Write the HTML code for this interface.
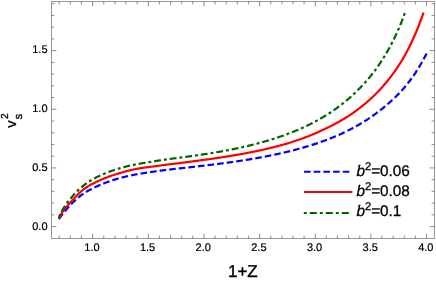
<!DOCTYPE html>
<html><head><meta charset="utf-8"><style>
html,body{margin:0;padding:0;background:#fff;}
svg{display:block;font-family:"Liberation Sans",sans-serif;will-change:transform;}
svg text{text-rendering:geometricPrecision;}
</style></head><body>
<svg width="436" height="282" viewBox="0 0 436 282">
<rect width="436" height="282" fill="#fff"/>
<g fill="none" stroke-linecap="butt" stroke-linejoin="round">
<path d="M58.80,219.10 L59.55,218.06 L60.30,217.05 L61.06,216.06 L61.81,215.08 L62.56,214.12 L63.31,213.17 L64.07,212.24 L64.82,211.33 L65.57,210.44 L66.32,209.56 L67.07,208.69 L67.83,207.84 L68.58,207.00 L69.33,206.18 L70.08,205.37 L70.83,204.58 L71.59,203.80 L72.34,203.04 L73.09,202.29 L73.84,201.56 L74.60,200.84 L75.35,200.14 L76.10,199.45 L76.85,198.79 L77.60,198.13 L78.36,197.50 L79.11,196.88 L79.86,196.28 L80.61,195.69 L81.36,195.13 L82.12,194.58 L82.87,194.05 L83.62,193.54 L84.37,193.05 L85.13,192.57 L85.88,192.10 L86.63,191.65 L87.38,191.21 L88.13,190.78 L88.89,190.36 L89.64,189.96 L90.39,189.56 L91.14,189.17 L91.89,188.79 L92.65,188.41 L93.40,188.04 L94.15,187.68 L94.90,187.32 L95.66,186.96 L96.41,186.61 L97.16,186.26 L97.91,185.92 L98.66,185.59 L99.42,185.26 L100.17,184.93 L100.92,184.61 L101.67,184.29 L102.42,183.98 L103.18,183.67 L103.93,183.37 L104.68,183.07 L105.43,182.78 L106.19,182.49 L106.94,182.21 L107.69,181.93 L108.44,181.66 L109.19,181.39 L109.95,181.12 L110.70,180.86 L111.45,180.61 L112.20,180.36 L112.95,180.11 L113.71,179.87 L114.46,179.63 L115.21,179.40 L115.96,179.17 L116.72,178.95 L117.47,178.73 L118.22,178.51 L118.97,178.30 L119.72,178.10 L120.48,177.90 L121.23,177.70 L121.98,177.51 L122.73,177.32 L123.48,177.13 L124.24,176.95 L124.99,176.77 L125.74,176.59 L126.49,176.41 L127.25,176.24 L128.00,176.07 L128.75,175.91 L129.50,175.74 L130.25,175.58 L131.01,175.43 L131.76,175.27 L132.51,175.12 L133.26,174.97 L134.01,174.82 L134.77,174.68 L135.52,174.53 L136.27,174.39 L137.02,174.25 L137.78,174.12 L138.53,173.98 L139.28,173.85 L140.03,173.72 L140.78,173.59 L141.54,173.46 L142.29,173.34 L143.04,173.21 L143.79,173.09 L144.54,172.97 L145.30,172.85 L146.05,172.74 L146.80,172.62 L147.55,172.50 L148.31,172.39 L149.06,172.28 L149.81,172.17 L150.56,172.05 L151.31,171.94 L152.07,171.84 L152.82,171.73 L153.57,171.62 L154.32,171.52 L155.07,171.41 L155.83,171.31 L156.58,171.20 L157.33,171.10 L158.08,171.00 L158.84,170.90 L159.59,170.80 L160.34,170.70 L161.09,170.60 L161.84,170.50 L162.60,170.40 L163.35,170.31 L164.10,170.21 L164.85,170.12 L165.60,170.02 L166.36,169.93 L167.11,169.84 L167.86,169.74 L168.61,169.65 L169.37,169.56 L170.12,169.47 L170.87,169.38 L171.62,169.29 L172.37,169.20 L173.13,169.11 L173.88,169.02 L174.63,168.93 L175.38,168.84 L176.13,168.76 L176.89,168.67 L177.64,168.58 L178.39,168.50 L179.14,168.41 L179.90,168.32 L180.65,168.24 L181.40,168.15 L182.15,168.07 L182.90,167.98 L183.66,167.90 L184.41,167.81 L185.16,167.73 L185.91,167.64 L186.67,167.56 L187.42,167.48 L188.17,167.39 L188.92,167.31 L189.67,167.22 L190.43,167.14 L191.18,167.06 L191.93,166.97 L192.68,166.89 L193.43,166.80 L194.19,166.72 L194.94,166.64 L195.69,166.55 L196.44,166.47 L197.20,166.38 L197.95,166.30 L198.70,166.21 L199.45,166.13 L200.20,166.04 L200.96,165.96 L201.71,165.87 L202.46,165.79 L203.21,165.70 L203.96,165.62 L204.72,165.53 L205.47,165.44 L206.22,165.35 L206.97,165.27 L207.73,165.18 L208.48,165.09 L209.23,165.00 L209.98,164.91 L210.73,164.82 L211.49,164.73 L212.24,164.64 L212.99,164.55 L213.74,164.46 L214.49,164.36 L215.25,164.27 L216.00,164.18 L216.75,164.08 L217.50,163.99 L218.26,163.89 L219.01,163.80 L219.76,163.70 L220.51,163.61 L221.26,163.51 L222.02,163.41 L222.77,163.31 L223.52,163.21 L224.27,163.11 L225.02,163.01 L225.78,162.91 L226.53,162.81 L227.28,162.71 L228.03,162.60 L228.79,162.50 L229.54,162.40 L230.29,162.29 L231.04,162.19 L231.79,162.08 L232.55,161.97 L233.30,161.87 L234.05,161.76 L234.80,161.65 L235.55,161.54 L236.31,161.43 L237.06,161.32 L237.81,161.20 L238.56,161.09 L239.32,160.98 L240.07,160.86 L240.82,160.75 L241.57,160.63 L242.32,160.52 L243.08,160.40 L243.83,160.28 L244.58,160.16 L245.33,160.04 L246.08,159.92 L246.84,159.80 L247.59,159.68 L248.34,159.55 L249.09,159.43 L249.85,159.30 L250.60,159.18 L251.35,159.05 L252.10,158.92 L252.85,158.79 L253.61,158.66 L254.36,158.53 L255.11,158.40 L255.86,158.27 L256.61,158.14 L257.37,158.00 L258.12,157.87 L258.87,157.73 L259.62,157.59 L260.38,157.46 L261.13,157.32 L261.88,157.18 L262.63,157.04 L263.38,156.89 L264.14,156.75 L264.89,156.61 L265.64,156.46 L266.39,156.31 L267.14,156.17 L267.90,156.02 L268.65,155.87 L269.40,155.72 L270.15,155.57 L270.91,155.41 L271.66,155.26 L272.41,155.11 L273.16,154.95 L273.91,154.79 L274.67,154.63 L275.42,154.47 L276.17,154.31 L276.92,154.15 L277.67,153.99 L278.43,153.82 L279.18,153.66 L279.93,153.49 L280.68,153.32 L281.44,153.15 L282.19,152.98 L282.94,152.81 L283.69,152.63 L284.44,152.46 L285.20,152.28 L285.95,152.10 L286.70,151.92 L287.45,151.74 L288.20,151.56 L288.96,151.38 L289.71,151.19 L290.46,151.00 L291.21,150.81 L291.97,150.62 L292.72,150.43 L293.47,150.24 L294.22,150.04 L294.97,149.85 L295.73,149.65 L296.48,149.45 L297.23,149.25 L297.98,149.04 L298.73,148.84 L299.49,148.63 L300.24,148.42 L300.99,148.21 L301.74,148.00 L302.50,147.79 L303.25,147.57 L304.00,147.35 L304.75,147.13 L305.50,146.91 L306.26,146.69 L307.01,146.46 L307.76,146.24 L308.51,146.01 L309.27,145.78 L310.02,145.55 L310.77,145.31 L311.52,145.07 L312.27,144.83 L313.03,144.59 L313.78,144.35 L314.53,144.11 L315.28,143.86 L316.03,143.61 L316.79,143.36 L317.54,143.10 L318.29,142.85 L319.04,142.59 L319.80,142.33 L320.55,142.07 L321.30,141.80 L322.05,141.54 L322.80,141.27 L323.56,141.00 L324.31,140.72 L325.06,140.45 L325.81,140.17 L326.56,139.88 L327.32,139.60 L328.07,139.31 L328.82,139.02 L329.57,138.73 L330.33,138.44 L331.08,138.14 L331.83,137.84 L332.58,137.53 L333.33,137.23 L334.09,136.92 L334.84,136.60 L335.59,136.29 L336.34,135.97 L337.09,135.65 L337.85,135.32 L338.60,134.99 L339.35,134.66 L340.10,134.32 L340.86,133.99 L341.61,133.64 L342.36,133.30 L343.11,132.95 L343.86,132.59 L344.62,132.24 L345.37,131.88 L346.12,131.51 L346.87,131.14 L347.62,130.77 L348.38,130.39 L349.13,130.01 L349.88,129.63 L350.63,129.24 L351.39,128.85 L352.14,128.45 L352.89,128.05 L353.64,127.65 L354.39,127.24 L355.15,126.83 L355.90,126.41 L356.65,125.99 L357.40,125.56 L358.15,125.13 L358.91,124.69 L359.66,124.25 L360.41,123.81 L361.16,123.36 L361.92,122.90 L362.67,122.44 L363.42,121.98 L364.17,121.51 L364.92,121.04 L365.68,120.56 L366.43,120.08 L367.18,119.59 L367.93,119.09 L368.68,118.59 L369.44,118.09 L370.19,117.58 L370.94,117.06 L371.69,116.54 L372.45,116.02 L373.20,115.49 L373.95,114.95 L374.70,114.41 L375.45,113.86 L376.21,113.30 L376.96,112.74 L377.71,112.18 L378.46,111.61 L379.21,111.03 L379.97,110.45 L380.72,109.86 L381.47,109.26 L382.22,108.66 L382.98,108.05 L383.73,107.44 L384.48,106.82 L385.23,106.19 L385.98,105.56 L386.74,104.92 L387.49,104.27 L388.24,103.62 L388.99,102.96 L389.74,102.30 L390.50,101.63 L391.25,100.95 L392.00,100.26 L392.75,99.57 L393.51,98.86 L394.26,98.15 L395.01,97.43 L395.76,96.70 L396.51,95.96 L397.27,95.21 L398.02,94.45 L398.77,93.68 L399.52,92.90 L400.27,92.10 L401.03,91.30 L401.78,90.48 L402.53,89.64 L403.28,88.79 L404.04,87.93 L404.79,87.06 L405.54,86.16 L406.29,85.26 L407.04,84.34 L407.80,83.40 L408.55,82.44 L409.30,81.47 L410.05,80.48 L410.80,79.47 L411.56,78.45 L412.31,77.40 L413.06,76.34 L413.81,75.26 L414.57,74.15 L415.32,73.03 L416.07,71.88 L416.82,70.72 L417.57,69.53 L418.33,68.32 L419.08,67.09 L419.83,65.83 L420.58,64.56 L421.33,63.25 L422.09,61.93 L422.84,60.58 L423.59,59.20 L424.34,57.80 L425.10,56.37 L425.85,54.92 L426.60,53.44" stroke="#0000ff" stroke-width="2.2" stroke-dasharray="6.57 3.08"/>
<path d="M58.70,218.72 L59.45,217.15 L60.20,215.70 L60.96,214.36 L61.71,213.12 L62.46,211.96 L63.21,210.88 L63.97,209.86 L64.72,208.90 L65.47,207.98 L66.22,207.10 L66.97,206.24 L67.73,205.39 L68.48,204.54 L69.23,203.71 L69.98,202.88 L70.74,202.06 L71.49,201.24 L72.24,200.43 L72.99,199.63 L73.75,198.82 L74.50,198.03 L75.25,197.23 L76.00,196.43 L76.75,195.64 L77.51,194.87 L78.26,194.11 L79.01,193.37 L79.76,192.66 L80.52,191.96 L81.27,191.29 L82.02,190.64 L82.77,190.02 L83.52,189.42 L84.28,188.84 L85.03,188.29 L85.78,187.76 L86.53,187.25 L87.29,186.77 L88.04,186.30 L88.79,185.85 L89.54,185.41 L90.30,184.99 L91.05,184.59 L91.80,184.20 L92.55,183.82 L93.30,183.43 L94.06,183.05 L94.81,182.67 L95.56,182.29 L96.31,181.91 L97.07,181.54 L97.82,181.18 L98.57,180.83 L99.32,180.49 L100.07,180.17 L100.83,179.85 L101.58,179.54 L102.33,179.23 L103.08,178.92 L103.84,178.61 L104.59,178.30 L105.34,178.00 L106.09,177.70 L106.85,177.41 L107.60,177.12 L108.35,176.83 L109.10,176.55 L109.85,176.27 L110.61,175.99 L111.36,175.73 L112.11,175.47 L112.86,175.22 L113.62,174.97 L114.37,174.73 L115.12,174.50 L115.87,174.26 L116.62,174.03 L117.38,173.81 L118.13,173.58 L118.88,173.36 L119.63,173.13 L120.39,172.91 L121.14,172.69 L121.89,172.46 L122.64,172.24 L123.40,172.03 L124.15,171.81 L124.90,171.60 L125.65,171.40 L126.40,171.19 L127.16,171.00 L127.91,170.80 L128.66,170.61 L129.41,170.43 L130.17,170.24 L130.92,170.07 L131.67,169.89 L132.42,169.72 L133.17,169.56 L133.93,169.40 L134.68,169.24 L135.43,169.09 L136.18,168.94 L136.94,168.80 L137.69,168.66 L138.44,168.53 L139.19,168.40 L139.94,168.28 L140.70,168.16 L141.45,168.04 L142.20,167.93 L142.95,167.82 L143.71,167.71 L144.46,167.61 L145.21,167.51 L145.96,167.41 L146.72,167.31 L147.47,167.21 L148.22,167.12 L148.97,167.03 L149.72,166.93 L150.48,166.84 L151.23,166.75 L151.98,166.66 L152.73,166.57 L153.49,166.47 L154.24,166.37 L154.99,166.27 L155.74,166.17 L156.49,166.07 L157.25,165.96 L158.00,165.86 L158.75,165.75 L159.50,165.64 L160.26,165.53 L161.01,165.42 L161.76,165.32 L162.51,165.21 L163.27,165.10 L164.02,165.00 L164.77,164.90 L165.52,164.79 L166.27,164.70 L167.03,164.60 L167.78,164.51 L168.53,164.42 L169.28,164.33 L170.04,164.24 L170.79,164.15 L171.54,164.06 L172.29,163.97 L173.04,163.88 L173.80,163.79 L174.55,163.70 L175.30,163.60 L176.05,163.51 L176.81,163.42 L177.56,163.33 L178.31,163.23 L179.06,163.14 L179.82,163.05 L180.57,162.95 L181.32,162.86 L182.07,162.77 L182.82,162.67 L183.58,162.58 L184.33,162.48 L185.08,162.39 L185.83,162.29 L186.59,162.19 L187.34,162.10 L188.09,162.00 L188.84,161.90 L189.59,161.80 L190.35,161.71 L191.10,161.61 L191.85,161.51 L192.60,161.41 L193.36,161.31 L194.11,161.21 L194.86,161.11 L195.61,161.01 L196.37,160.91 L197.12,160.81 L197.87,160.70 L198.62,160.60 L199.37,160.50 L200.13,160.40 L200.88,160.29 L201.63,160.19 L202.38,160.08 L203.14,159.98 L203.89,159.87 L204.64,159.77 L205.39,159.66 L206.14,159.56 L206.90,159.45 L207.65,159.34 L208.40,159.24 L209.15,159.13 L209.91,159.02 L210.66,158.91 L211.41,158.81 L212.16,158.70 L212.91,158.59 L213.67,158.48 L214.42,158.37 L215.17,158.26 L215.92,158.15 L216.68,158.04 L217.43,157.93 L218.18,157.82 L218.93,157.71 L219.69,157.59 L220.44,157.48 L221.19,157.37 L221.94,157.25 L222.69,157.14 L223.45,157.02 L224.20,156.91 L224.95,156.79 L225.70,156.67 L226.46,156.55 L227.21,156.43 L227.96,156.31 L228.71,156.19 L229.46,156.07 L230.22,155.95 L230.97,155.83 L231.72,155.70 L232.47,155.58 L233.23,155.45 L233.98,155.33 L234.73,155.20 L235.48,155.07 L236.24,154.94 L236.99,154.81 L237.74,154.68 L238.49,154.55 L239.24,154.42 L240.00,154.28 L240.75,154.15 L241.50,154.01 L242.25,153.88 L243.01,153.74 L243.76,153.60 L244.51,153.46 L245.26,153.32 L246.01,153.18 L246.77,153.04 L247.52,152.89 L248.27,152.75 L249.02,152.60 L249.78,152.46 L250.53,152.31 L251.28,152.16 L252.03,152.01 L252.79,151.86 L253.54,151.71 L254.29,151.56 L255.04,151.40 L255.79,151.25 L256.55,151.09 L257.30,150.93 L258.05,150.77 L258.80,150.61 L259.56,150.45 L260.31,150.29 L261.06,150.13 L261.81,149.96 L262.56,149.79 L263.32,149.63 L264.07,149.46 L264.82,149.29 L265.57,149.11 L266.33,148.94 L267.08,148.77 L267.83,148.59 L268.58,148.41 L269.34,148.23 L270.09,148.05 L270.84,147.87 L271.59,147.69 L272.34,147.50 L273.10,147.32 L273.85,147.13 L274.60,146.94 L275.35,146.74 L276.11,146.55 L276.86,146.36 L277.61,146.16 L278.36,145.96 L279.11,145.76 L279.87,145.55 L280.62,145.35 L281.37,145.14 L282.12,144.93 L282.88,144.72 L283.63,144.51 L284.38,144.30 L285.13,144.08 L285.88,143.86 L286.64,143.64 L287.39,143.42 L288.14,143.19 L288.89,142.96 L289.65,142.73 L290.40,142.50 L291.15,142.27 L291.90,142.03 L292.66,141.79 L293.41,141.55 L294.16,141.31 L294.91,141.06 L295.66,140.81 L296.42,140.56 L297.17,140.31 L297.92,140.05 L298.67,139.79 L299.43,139.53 L300.18,139.27 L300.93,139.00 L301.68,138.73 L302.43,138.46 L303.19,138.19 L303.94,137.91 L304.69,137.63 L305.44,137.34 L306.20,137.06 L306.95,136.77 L307.70,136.48 L308.45,136.18 L309.21,135.88 L309.96,135.58 L310.71,135.27 L311.46,134.97 L312.21,134.65 L312.97,134.34 L313.72,134.02 L314.47,133.70 L315.22,133.38 L315.98,133.05 L316.73,132.72 L317.48,132.38 L318.23,132.04 L318.98,131.70 L319.74,131.36 L320.49,131.01 L321.24,130.66 L321.99,130.31 L322.75,129.96 L323.50,129.61 L324.25,129.26 L325.00,128.91 L325.76,128.55 L326.51,128.20 L327.26,127.84 L328.01,127.48 L328.76,127.11 L329.52,126.75 L330.27,126.38 L331.02,126.00 L331.77,125.62 L332.53,125.24 L333.28,124.85 L334.03,124.45 L334.78,124.06 L335.53,123.65 L336.29,123.25 L337.04,122.84 L337.79,122.42 L338.54,122.01 L339.30,121.59 L340.05,121.16 L340.80,120.73 L341.55,120.30 L342.31,119.86 L343.06,119.41 L343.81,118.95 L344.56,118.49 L345.31,118.02 L346.07,117.55 L346.82,117.07 L347.57,116.59 L348.32,116.10 L349.08,115.60 L349.83,115.10 L350.58,114.60 L351.33,114.09 L352.08,113.58 L352.84,113.05 L353.59,112.53 L354.34,111.99 L355.09,111.45 L355.85,110.91 L356.60,110.36 L357.35,109.80 L358.10,109.23 L358.85,108.66 L359.61,108.08 L360.36,107.50 L361.11,106.91 L361.86,106.32 L362.62,105.72 L363.37,105.11 L364.12,104.50 L364.87,103.88 L365.63,103.26 L366.38,102.62 L367.13,101.98 L367.88,101.33 L368.63,100.66 L369.39,99.99 L370.14,99.31 L370.89,98.62 L371.64,97.93 L372.40,97.22 L373.15,96.50 L373.90,95.78 L374.65,95.04 L375.40,94.30 L376.16,93.55 L376.91,92.78 L377.66,92.01 L378.41,91.23 L379.17,90.44 L379.92,89.64 L380.67,88.82 L381.42,88.00 L382.18,87.16 L382.93,86.31 L383.68,85.45 L384.43,84.58 L385.18,83.70 L385.94,82.80 L386.69,81.89 L387.44,80.97 L388.19,80.04 L388.95,79.10 L389.70,78.14 L390.45,77.17 L391.20,76.19 L391.95,75.19 L392.71,74.18 L393.46,73.15 L394.21,72.10 L394.96,71.04 L395.72,69.96 L396.47,68.87 L397.22,67.75 L397.97,66.63 L398.73,65.48 L399.48,64.31 L400.23,63.13 L400.98,61.93 L401.73,60.70 L402.49,59.45 L403.24,58.18 L403.99,56.88 L404.74,55.56 L405.50,54.21 L406.25,52.83 L407.00,51.43 L407.75,50.00 L408.50,48.54 L409.26,47.05 L410.01,45.54 L410.76,43.99 L411.51,42.41 L412.27,40.81 L413.02,39.16 L413.77,37.49 L414.52,35.79 L415.28,34.05 L416.03,32.27 L416.78,30.46 L417.53,28.62 L418.28,26.74 L419.04,24.82 L419.79,22.86 L420.54,20.87 L421.29,18.84 L422.05,16.77 L422.80,14.66 L423.55,12.51" stroke="#ff0000" stroke-width="2.2"/>
<path d="M58.70,217.78 L59.45,216.04 L60.20,214.40 L60.96,212.87 L61.71,211.42 L62.46,210.06 L63.21,208.77 L63.96,207.55 L64.71,206.38 L65.47,205.27 L66.22,204.20 L66.97,203.17 L67.72,202.17 L68.47,201.18 L69.23,200.22 L69.98,199.27 L70.73,198.34 L71.48,197.43 L72.23,196.54 L72.99,195.66 L73.74,194.81 L74.49,193.98 L75.24,193.16 L75.99,192.37 L76.74,191.60 L77.50,190.85 L78.25,190.12 L79.00,189.41 L79.75,188.73 L80.50,188.07 L81.26,187.42 L82.01,186.79 L82.76,186.17 L83.51,185.57 L84.26,184.98 L85.01,184.41 L85.77,183.85 L86.52,183.31 L87.27,182.78 L88.02,182.26 L88.77,181.76 L89.53,181.26 L90.28,180.79 L91.03,180.32 L91.78,179.87 L92.53,179.42 L93.28,178.99 L94.04,178.57 L94.79,178.16 L95.54,177.77 L96.29,177.38 L97.04,177.00 L97.80,176.63 L98.55,176.27 L99.30,175.92 L100.05,175.57 L100.80,175.23 L101.56,174.90 L102.31,174.58 L103.06,174.26 L103.81,173.94 L104.56,173.63 L105.31,173.32 L106.07,173.02 L106.82,172.72 L107.57,172.42 L108.32,172.12 L109.07,171.83 L109.83,171.55 L110.58,171.27 L111.33,171.00 L112.08,170.74 L112.83,170.48 L113.58,170.22 L114.34,169.98 L115.09,169.73 L115.84,169.49 L116.59,169.26 L117.34,169.03 L118.10,168.80 L118.85,168.57 L119.60,168.35 L120.35,168.12 L121.10,167.90 L121.85,167.69 L122.61,167.47 L123.36,167.27 L124.11,167.06 L124.86,166.86 L125.61,166.67 L126.37,166.48 L127.12,166.30 L127.87,166.11 L128.62,165.94 L129.37,165.76 L130.13,165.59 L130.88,165.43 L131.63,165.26 L132.38,165.10 L133.13,164.95 L133.88,164.80 L134.64,164.65 L135.39,164.50 L136.14,164.36 L136.89,164.21 L137.64,164.08 L138.40,163.94 L139.15,163.81 L139.90,163.67 L140.65,163.54 L141.40,163.42 L142.15,163.29 L142.91,163.17 L143.66,163.04 L144.41,162.92 L145.16,162.80 L145.91,162.68 L146.67,162.56 L147.42,162.44 L148.17,162.32 L148.92,162.20 L149.67,162.08 L150.42,161.95 L151.18,161.83 L151.93,161.70 L152.68,161.58 L153.43,161.45 L154.18,161.33 L154.94,161.20 L155.69,161.08 L156.44,160.95 L157.19,160.83 L157.94,160.71 L158.70,160.58 L159.45,160.46 L160.20,160.34 L160.95,160.22 L161.70,160.10 L162.45,159.99 L163.21,159.87 L163.96,159.76 L164.71,159.65 L165.46,159.54 L166.21,159.43 L166.97,159.32 L167.72,159.22 L168.47,159.12 L169.22,159.02 L169.97,158.92 L170.72,158.82 L171.48,158.72 L172.23,158.62 L172.98,158.52 L173.73,158.42 L174.48,158.33 L175.24,158.23 L175.99,158.13 L176.74,158.03 L177.49,157.93 L178.24,157.84 L179.00,157.74 L179.75,157.64 L180.50,157.54 L181.25,157.44 L182.00,157.35 L182.75,157.25 L183.51,157.15 L184.26,157.05 L185.01,156.95 L185.76,156.85 L186.51,156.75 L187.27,156.65 L188.02,156.55 L188.77,156.45 L189.52,156.35 L190.27,156.25 L191.02,156.15 L191.78,156.05 L192.53,155.95 L193.28,155.84 L194.03,155.74 L194.78,155.63 L195.54,155.53 L196.29,155.42 L197.04,155.32 L197.79,155.21 L198.54,155.10 L199.29,154.99 L200.05,154.88 L200.80,154.77 L201.55,154.66 L202.30,154.55 L203.05,154.44 L203.81,154.32 L204.56,154.21 L205.31,154.09 L206.06,153.98 L206.81,153.86 L207.57,153.74 L208.32,153.62 L209.07,153.50 L209.82,153.38 L210.57,153.26 L211.32,153.14 L212.08,153.02 L212.83,152.89 L213.58,152.77 L214.33,152.64 L215.08,152.52 L215.84,152.39 L216.59,152.26 L217.34,152.13 L218.09,152.00 L218.84,151.87 L219.59,151.74 L220.35,151.60 L221.10,151.47 L221.85,151.33 L222.60,151.20 L223.35,151.06 L224.11,150.92 L224.86,150.78 L225.61,150.64 L226.36,150.50 L227.11,150.35 L227.86,150.21 L228.62,150.06 L229.37,149.92 L230.12,149.77 L230.87,149.62 L231.62,149.47 L232.38,149.32 L233.13,149.17 L233.88,149.01 L234.63,148.86 L235.38,148.70 L236.14,148.54 L236.89,148.38 L237.64,148.22 L238.39,148.06 L239.14,147.90 L239.89,147.74 L240.65,147.57 L241.40,147.40 L242.15,147.23 L242.90,147.06 L243.65,146.89 L244.41,146.72 L245.16,146.55 L245.91,146.37 L246.66,146.19 L247.41,146.02 L248.16,145.84 L248.92,145.66 L249.67,145.47 L250.42,145.29 L251.17,145.10 L251.92,144.92 L252.68,144.73 L253.43,144.54 L254.18,144.34 L254.93,144.15 L255.68,143.96 L256.43,143.76 L257.19,143.56 L257.94,143.36 L258.69,143.16 L259.44,142.96 L260.19,142.75 L260.95,142.55 L261.70,142.34 L262.45,142.13 L263.20,141.92 L263.95,141.70 L264.71,141.49 L265.46,141.27 L266.21,141.05 L266.96,140.83 L267.71,140.61 L268.46,140.38 L269.22,140.16 L269.97,139.93 L270.72,139.70 L271.47,139.47 L272.22,139.24 L272.98,139.00 L273.73,138.77 L274.48,138.53 L275.23,138.29 L275.98,138.04 L276.73,137.80 L277.49,137.55 L278.24,137.30 L278.99,137.05 L279.74,136.79 L280.49,136.54 L281.25,136.28 L282.00,136.02 L282.75,135.75 L283.50,135.49 L284.25,135.22 L285.00,134.95 L285.76,134.67 L286.51,134.40 L287.26,134.12 L288.01,133.84 L288.76,133.55 L289.52,133.27 L290.27,132.98 L291.02,132.69 L291.77,132.39 L292.52,132.09 L293.28,131.79 L294.03,131.49 L294.78,131.18 L295.53,130.87 L296.28,130.56 L297.03,130.24 L297.79,129.92 L298.54,129.60 L299.29,129.27 L300.04,128.95 L300.79,128.61 L301.55,128.28 L302.30,127.94 L303.05,127.60 L303.80,127.25 L304.55,126.90 L305.30,126.55 L306.06,126.20 L306.81,125.84 L307.56,125.47 L308.31,125.11 L309.06,124.74 L309.82,124.36 L310.57,123.99 L311.32,123.60 L312.07,123.22 L312.82,122.83 L313.58,122.44 L314.33,122.04 L315.08,121.64 L315.83,121.23 L316.58,120.83 L317.33,120.41 L318.09,120.00 L318.84,119.58 L319.59,119.15 L320.34,118.72 L321.09,118.29 L321.85,117.85 L322.60,117.41 L323.35,116.96 L324.10,116.51 L324.85,116.05 L325.60,115.59 L326.36,115.13 L327.11,114.66 L327.86,114.18 L328.61,113.70 L329.36,113.21 L330.12,112.72 L330.87,112.23 L331.62,111.72 L332.37,111.22 L333.12,110.70 L333.87,110.18 L334.63,109.66 L335.38,109.13 L336.13,108.59 L336.88,108.05 L337.63,107.50 L338.39,106.95 L339.14,106.39 L339.89,105.82 L340.64,105.24 L341.39,104.66 L342.15,104.08 L342.90,103.48 L343.65,102.88 L344.40,102.27 L345.15,101.66 L345.90,101.04 L346.66,100.41 L347.41,99.77 L348.16,99.13 L348.91,98.48 L349.66,97.82 L350.42,97.16 L351.17,96.48 L351.92,95.80 L352.67,95.11 L353.42,94.42 L354.17,93.71 L354.93,93.00 L355.68,92.28 L356.43,91.55 L357.18,90.81 L357.93,90.07 L358.69,89.31 L359.44,88.55 L360.19,87.78 L360.94,87.00 L361.69,86.21 L362.44,85.41 L363.20,84.60 L363.95,83.78 L364.70,82.95 L365.45,82.11 L366.20,81.26 L366.96,80.40 L367.71,79.53 L368.46,78.64 L369.21,77.74 L369.96,76.83 L370.72,75.91 L371.47,74.97 L372.22,74.02 L372.97,73.05 L373.72,72.07 L374.47,71.08 L375.23,70.07 L375.98,69.05 L376.73,68.01 L377.48,66.95 L378.23,65.88 L378.99,64.79 L379.74,63.69 L380.49,62.56 L381.24,61.42 L381.99,60.27 L382.74,59.09 L383.50,57.90 L384.25,56.68 L385.00,55.45 L385.75,54.20 L386.50,52.93 L387.26,51.63 L388.01,50.32 L388.76,48.98 L389.51,47.62 L390.26,46.23 L391.01,44.82 L391.77,43.38 L392.52,41.91 L393.27,40.41 L394.02,38.89 L394.77,37.33 L395.53,35.75 L396.28,34.13 L397.03,32.48 L397.78,30.80 L398.53,29.08 L399.29,27.32 L400.04,25.53 L400.79,23.71 L401.54,21.84 L402.29,19.94 L403.04,17.99 L403.80,16.01 L404.55,13.98 L405.30,11.91" stroke="#006400" stroke-width="2.2" stroke-dasharray="2.94 2.94 6.87 2.94" stroke-dashoffset="-0.9"/>
<path d="M58.70,217.78 L59.06,216.95" stroke="#006400" stroke-width="2.2"/>
</g>
<g fill="none" stroke="#979797" stroke-width="1">
<rect x="51.5" y="1.5" width="383.0" height="237.0"/>
<path d="M59.26,238.5 v-2.9 M59.26,1.5 v2.9 M70.39,238.5 v-2.9 M70.39,1.5 v2.9 M81.52,238.5 v-2.9 M81.52,1.5 v2.9 M92.65,238.5 v-4.9 M92.65,1.5 v4.9 M103.78,238.5 v-2.9 M103.78,1.5 v2.9 M114.91,238.5 v-2.9 M114.91,1.5 v2.9 M126.04,238.5 v-2.9 M126.04,1.5 v2.9 M137.17,238.5 v-2.9 M137.17,1.5 v2.9 M148.30,238.5 v-4.9 M148.30,1.5 v4.9 M159.43,238.5 v-2.9 M159.43,1.5 v2.9 M170.56,238.5 v-2.9 M170.56,1.5 v2.9 M181.69,238.5 v-2.9 M181.69,1.5 v2.9 M192.82,238.5 v-2.9 M192.82,1.5 v2.9 M203.95,238.5 v-4.9 M203.95,1.5 v4.9 M215.08,238.5 v-2.9 M215.08,1.5 v2.9 M226.21,238.5 v-2.9 M226.21,1.5 v2.9 M237.34,238.5 v-2.9 M237.34,1.5 v2.9 M248.47,238.5 v-2.9 M248.47,1.5 v2.9 M259.60,238.5 v-4.9 M259.60,1.5 v4.9 M270.73,238.5 v-2.9 M270.73,1.5 v2.9 M281.86,238.5 v-2.9 M281.86,1.5 v2.9 M292.99,238.5 v-2.9 M292.99,1.5 v2.9 M304.12,238.5 v-2.9 M304.12,1.5 v2.9 M315.25,238.5 v-4.9 M315.25,1.5 v4.9 M326.38,238.5 v-2.9 M326.38,1.5 v2.9 M337.51,238.5 v-2.9 M337.51,1.5 v2.9 M348.64,238.5 v-2.9 M348.64,1.5 v2.9 M359.77,238.5 v-2.9 M359.77,1.5 v2.9 M370.90,238.5 v-4.9 M370.90,1.5 v4.9 M382.03,238.5 v-2.9 M382.03,1.5 v2.9 M393.16,238.5 v-2.9 M393.16,1.5 v2.9 M404.29,238.5 v-2.9 M404.29,1.5 v2.9 M415.42,238.5 v-2.9 M415.42,1.5 v2.9 M426.55,238.5 v-4.9 M426.55,1.5 v4.9 M51.5,226.58 h4.9 M434.5,226.58 h-4.9 M51.5,214.85 h2.9 M434.5,214.85 h-2.9 M51.5,203.12 h2.9 M434.5,203.12 h-2.9 M51.5,191.39 h2.9 M434.5,191.39 h-2.9 M51.5,179.66 h2.9 M434.5,179.66 h-2.9 M51.5,167.93 h4.9 M434.5,167.93 h-4.9 M51.5,156.20 h2.9 M434.5,156.20 h-2.9 M51.5,144.47 h2.9 M434.5,144.47 h-2.9 M51.5,132.74 h2.9 M434.5,132.74 h-2.9 M51.5,121.01 h2.9 M434.5,121.01 h-2.9 M51.5,109.28 h4.9 M434.5,109.28 h-4.9 M51.5,97.55 h2.9 M434.5,97.55 h-2.9 M51.5,85.82 h2.9 M434.5,85.82 h-2.9 M51.5,74.09 h2.9 M434.5,74.09 h-2.9 M51.5,62.36 h2.9 M434.5,62.36 h-2.9 M51.5,50.63 h4.9 M434.5,50.63 h-4.9 M51.5,38.90 h2.9 M434.5,38.90 h-2.9 M51.5,27.17 h2.9 M434.5,27.17 h-2.9 M51.5,15.44 h2.9 M434.5,15.44 h-2.9 M51.5,3.71 h2.9 M434.5,3.71 h-2.9" stroke="#6c6c6c" stroke-width="0.78"/>
</g>
<g font-size="11" fill="#000" stroke="#000" stroke-width="0.22"><text x="91.95" y="251" text-anchor="middle">1.0</text><text x="147.60" y="251" text-anchor="middle">1.5</text><text x="203.25" y="251" text-anchor="middle">2.0</text><text x="258.90" y="251" text-anchor="middle">2.5</text><text x="314.55" y="251" text-anchor="middle">3.0</text><text x="370.20" y="251" text-anchor="middle">3.5</text><text x="425.85" y="251" text-anchor="middle">4.0</text><text x="47.5" y="229.8" text-anchor="end">0.0</text><text x="47.5" y="171" text-anchor="end">0.5</text><text x="47.5" y="112" text-anchor="end">1.0</text><text x="47.5" y="53.2" text-anchor="end">1.5</text></g>
<text x="242.85" y="277.3" font-size="17" text-anchor="middle" fill="#000" stroke="#000" stroke-width="0.35">1+Z</text>
<g transform="translate(16.3,127.9) rotate(-90)" fill="#000" stroke="#000" stroke-width="0.3"><text x="0.2" y="0.1" font-size="14.5">v</text><text x="8.9" y="-8.4" font-size="10.2">2</text><text x="8.4" y="5.9" font-size="11.4">s</text></g>
<g fill="none" stroke-linecap="butt">
<path d="M304,171.8 H350" stroke="#0000ff" stroke-width="2" stroke-dasharray="6.6 3.1"/>
<path d="M304,192 H352.4" stroke="#ff0000" stroke-width="2"/>
<path d="M303.8,212.9 H348.9" stroke="#006400" stroke-width="2" stroke-dasharray="3 3 7 3"/>
</g>
<g font-size="15.3" fill="#000" stroke="#000" stroke-width="0.3">
<text x="356.4" y="175.5"><tspan font-style="italic">b</tspan><tspan dy="-5.9" font-size="11.2">2</tspan><tspan dy="5.9">=0.06</tspan></text>
<text x="356.4" y="195.6"><tspan font-style="italic">b</tspan><tspan dy="-5.9" font-size="11.2">2</tspan><tspan dy="5.9">=0.08</tspan></text>
<text x="356.4" y="216.1"><tspan font-style="italic">b</tspan><tspan dy="-5.9" font-size="11.2">2</tspan><tspan dy="5.9">=0.1</tspan></text>
</g>
</svg>
</body></html>
